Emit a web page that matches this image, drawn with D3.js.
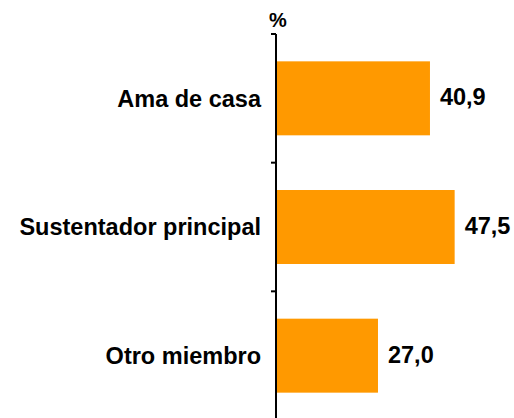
<!DOCTYPE html>
<html>
<head>
<meta charset="utf-8">
<script src="https://cdn.jsdelivr.net/npm/d3@7/dist/d3.min.js"></script>
<style>
  html, body { margin: 0; padding: 0; background: #fff; }
  svg { display: block; }
  text { font-family: "Liberation Sans", Arial, sans-serif; font-weight: bold; fill: #000; }
</style>
</head>
<body>
<script>
// Chart data
const categories = ["Ama de casa", "Sustentador principal", "Otro miembro"];
const values = [40.9, 47.5, 27.0];
const unitLabel = "%";

const width = 514, height = 418;
const axisX = 276;
const plotTop = 34, plotBottom = 420;

const svg = d3.select("body").append("svg")
  .attr("width", width)
  .attr("height", height);

const y = d3.scaleBand()
  .domain(categories)
  .range([plotTop, plotBottom])
  .paddingInner(0.425)
  .paddingOuter(0.2125);

const x = d3.scaleLinear()
  .domain([0, 50])
  .range([axisX + 1, axisX + 1 + 187]);

const fmt = v => d3.format(".1f")(v).replace(".", ",");

// Bars
svg.append("g").selectAll("rect")
  .data(categories)
  .join("rect")
  .attr("x", x(0))
  .attr("y", d => y(d))
  .attr("width", (d, i) => x(values[i]) - x(0))
  .attr("height", y.bandwidth())
  .attr("fill", "#FF9900");

// Vertical category axis with ticks on band boundaries
const axisG = svg.append("g");
axisG.append("line")
  .attr("x1", axisX).attr("x2", axisX)
  .attr("y1", plotTop).attr("y2", height + 2)
  .attr("stroke", "#000").attr("stroke-width", 2);

const boundaries = categories.map(c => y(c) - y.step() * y.paddingInner() / 2)
  .map((b, i) => i === 0 ? plotTop : b);
axisG.selectAll("line.tick")
  .data(boundaries)
  .join("line")
  .attr("class", "tick")
  .attr("x1", axisX - 5).attr("x2", axisX)
  .attr("y1", d => d).attr("y2", d => d)
  .attr("stroke", "#000").attr("stroke-width", 2);

// Category labels
svg.append("g").selectAll("text")
  .data(categories)
  .join("text")
  .attr("x", axisX - 15)
  .attr("y", d => y(d) + y.bandwidth() / 2)
  .attr("dy", "0.35em")
  .attr("text-anchor", "end")
  .style("font-size", "23.5px")
  .text(d => d);

// Value labels
svg.append("g").selectAll("text")
  .data(categories)
  .join("text")
  .attr("x", (d, i) => x(values[i]) + 10)
  .attr("y", d => y(d) + y.bandwidth() / 2)
  .attr("dy", "0.3em")
  .attr("text-anchor", "start")
  .style("font-size", "23.5px")
  .text((d, i) => fmt(values[i]));

// Unit label above the axis
svg.append("text")
  .attr("x", axisX - 7)
  .attr("y", 26.5)
  .style("font-size", "20px")
  .text(unitLabel);
</script>
</body>
</html>
